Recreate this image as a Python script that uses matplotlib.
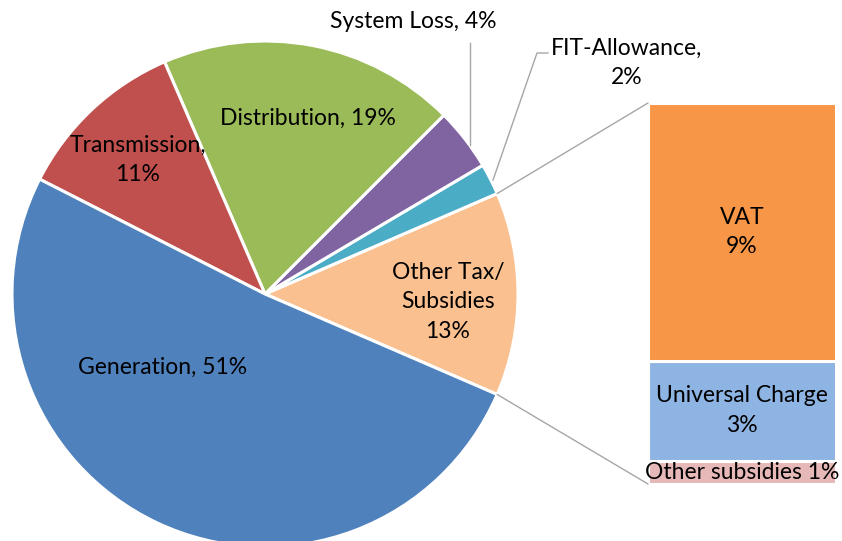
import matplotlib.pyplot as plt
from matplotlib.patches import ConnectionPatch
import numpy as np

plt.rcParams['font.family'] = ['Lato', 'DejaVu Sans']

# pie slices, counterclockwise from the split slice
pie_labels = ["Other Tax/\nSubsidies\n13%", "FIT-Allowance,\n2%", "System Loss, 4%",
              "Distribution, 19%", "Transmission,\n11%", "Generation, 51%"]
pie_values = [13, 2, 4, 19, 11, 51]
pie_colors = ["#FAC090", "#4BACC6", "#8064A2", "#9BBB59", "#C0504D", "#4F81BD"]

# breakdown of "Other Tax/Subsidies" (bottom to top)
bar_labels = ["Other subsidies 1%", "Universal Charge\n3%", "VAT\n9%"]
bar_values = [0.8, 3.4, 8.8]
bar_colors = ["#E6B9B8", "#8EB4E3", "#F79646"]

W, H = 842, 541
fig = plt.figure(figsize=(W / 100, H / 100), dpi=100)
ax = fig.add_axes([0, 0, 1, 1])

cx, cy, r = 265, H - 294, 253
start = -pie_values[0] / 2 * 3.6
wedges, _ = ax.pie(pie_values, colors=pie_colors, startangle=start, counterclock=True,
                   center=(cx, cy), radius=r, frame=True,
                   wedgeprops=dict(edgecolor='white', linewidth=2.2))
ax.set_xlim(0, W)
ax.set_ylim(0, H)
ax.set_aspect('equal')
ax.axis('off')

fs = 16.5
ls = 1.5
def txt(x, y, s, **kw):
    ax.text(x, H - y, s, fontsize=fs, ha='center', va='center', linespacing=ls, **kw)

txt(448, 302, pie_labels[0])
txt(163, 367, pie_labels[5])
txt(138, 160, pie_labels[4])
txt(308, 118, pie_labels[3])
txt(413, 22, pie_labels[2])
txt(627, 63, pie_labels[1])

# leader lines for the small slices
ax.plot([470, 470], [H - 43, H - 145], color='#A6A6A6', lw=1)
ax.plot([548, 537, 493], [H - 53, H - 53, H - 180], color='#A6A6A6', lw=1)

# bar of the split slice
bx0, bx1, by0, by1 = 648, 836, 484, 103
ax2 = fig.add_axes([bx0 / W, (H - by0) / H, (bx1 - bx0) / W, (by0 - by1) / H])
bottoms = np.concatenate([[0], np.cumsum(bar_values)[:-1]])
ax2.bar(0, bar_values, bottom=bottoms, width=1, color=bar_colors,
        edgecolor='white', linewidth=2.2)
ax2.set_xlim(-0.5, 0.5)
ax2.set_ylim(0, sum(bar_values))
ax2.axis('off')
for lab, v, b in zip(bar_labels, bar_values, bottoms):
    ax2.text(0, b + v / 2, lab, fontsize=fs, ha='center', va='center', linespacing=ls)

# connectors from the pie slice edges to the bar
t1 = np.deg2rad(start + pie_values[0] * 3.6)
t0 = np.deg2rad(start)
for t, yb in [(t1, sum(bar_values)), (t0, 0)]:
    con = ConnectionPatch(xyA=(cx + r * np.cos(t), cy + r * np.sin(t)), coordsA=ax.transData,
                          xyB=(-0.5, yb), coordsB=ax2.transData,
                          color='#A6A6A6', lw=1)
    fig.add_artist(con)

fig.savefig("out.png", dpi=100)
